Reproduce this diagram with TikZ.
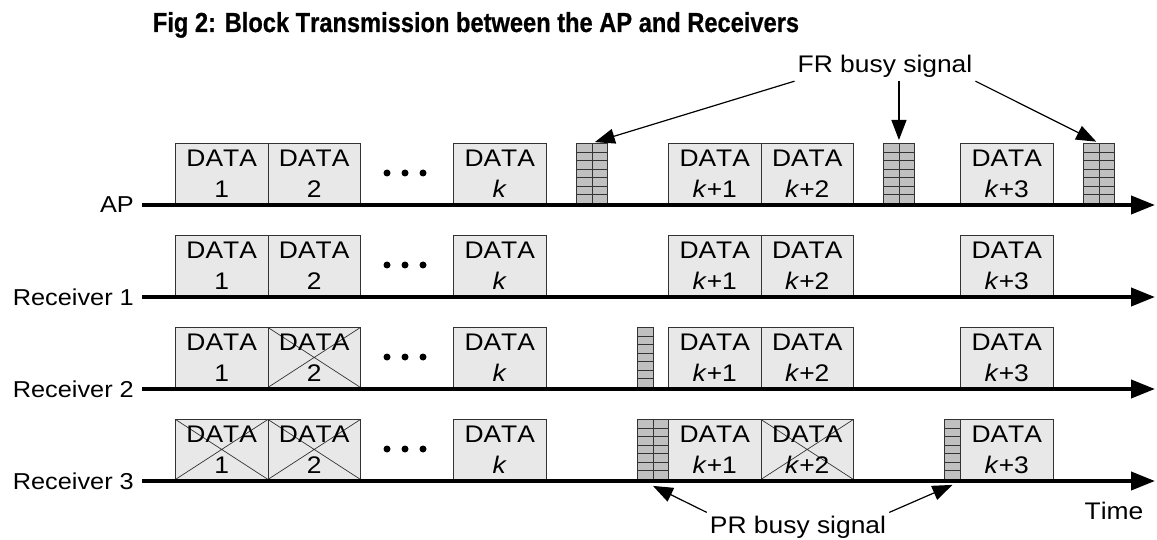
\documentclass[tikz,border=0pt]{standalone}
\usepackage{fontspec}
\setmainfont{Liberation Sans}[FakeStretch=1.1,Kerning=Off]
\newfontfamily\titlefont{Liberation Sans}[FakeStretch=0.86,Kerning=Off,FakeBold=0.6]
\usetikzlibrary{arrows.meta,calc}
\definecolor{boxfill}{HTML}{E8E8E8}
\definecolor{busyfill}{HTML}{C0C0C0}
\definecolor{edge}{HTML}{333333}
\tikzset{
  datab/.style={draw=edge, fill=boxfill, line width=0.9pt, minimum width=92.5pt,
    minimum height=60pt, inner sep=0pt, anchor=north west, align=center,
    font=\fontsize{24}{31}\selectfont},
  crossed/.style={path picture={
    \draw[edge, line width=0.7pt]
      (path picture bounding box.north west) -- (path picture bounding box.south east)
      (path picture bounding box.south west) -- (path picture bounding box.north east);}},
  busybase/.style={draw=edge, fill=busyfill, line width=0.9pt, minimum height=60pt,
    inner sep=0pt, anchor=north west},
  busyw/.style={busybase, minimum width=31pt, path picture={
    \foreach \i in {1,...,6}{
      \draw[edge, line width=0.9pt]
        ($(path picture bounding box.north west)!\i/7!(path picture bounding box.south west)$) --
        ($(path picture bounding box.north east)!\i/7!(path picture bounding box.south east)$);}
    \draw[edge, line width=0.9pt] (path picture bounding box.north) -- (path picture bounding box.south);}},
  busyn/.style={busybase, minimum width=16pt, path picture={
    \foreach \i in {1,...,6}{
      \draw[edge, line width=0.9pt]
        ($(path picture bounding box.north west)!\i/7!(path picture bounding box.south west)$) --
        ($(path picture bounding box.north east)!\i/7!(path picture bounding box.south east)$);}}},
  dotn/.style={circle, fill=black, minimum size=7pt, inner sep=0pt},
  lbl/.style={font=\fontsize{23}{26}\selectfont, inner sep=0pt, anchor=east},
  lblf/.style={font=\fontsize{24}{28}\selectfont, inner sep=3pt, anchor=base},
  axisln/.style={line width=4pt, -{Triangle[length=24pt,width=18pt]}},
  ptr/.style={line width=1.2pt, -{Triangle[length=20pt,width=15pt]}},
}
\begin{document}
\begin{tikzpicture}[x=1pt,y=-1pt]
\useasboundingbox (0,0) rectangle (1157,540);

% title
\node[anchor=base, inner sep=0pt, font=\titlefont\bfseries\fontsize{27.5}{30}\selectfont] (title) at (476,32)
  {Fig 2: Block Transmission between the AP and Receivers};

% ---- AP row ----
\node[datab] (a1) at (175,143) {DATA\\1};
\node[datab] (a2) at (267.5,143) {DATA\\2};
\node[dotn] (ad1) at (387,173) {};
\node[dotn] (ad2) at (405,173) {};
\node[dotn] (ad3) at (423,173) {};
\node[datab] (ak) at (453,143) {DATA\\\textit{k}};
\node[busyw] (ab1) at (576,143) {};
\node[datab] (ak1) at (668,143) {DATA\\\textit{k}+1};
\node[datab] (ak2) at (760.5,143) {DATA\\\textit{k}+2};
\node[busyw] (ab2) at (883,143) {};
\node[datab] (ak3) at (960,143) {DATA\\\textit{k}+3};
\node[busyw] (ab3) at (1083,143) {};

% ---- Receiver 1 ----
\node[datab] (b1) at (175,235) {DATA\\1};
\node[datab] (b2) at (267.5,235) {DATA\\2};
\node[dotn] (bd1) at (387,265) {};
\node[dotn] (bd2) at (405,265) {};
\node[dotn] (bd3) at (423,265) {};
\node[datab] (bk) at (453,235) {DATA\\\textit{k}};
\node[datab] (bk1) at (668,235) {DATA\\\textit{k}+1};
\node[datab] (bk2) at (760.5,235) {DATA\\\textit{k}+2};
\node[datab] (bk3) at (960,235) {DATA\\\textit{k}+3};

% ---- Receiver 2 ----
\node[datab] (c1) at (175,327) {DATA\\1};
\node[datab, crossed] (c2) at (267.5,327) {DATA\\2};
\node[dotn] (cd1) at (387,357) {};
\node[dotn] (cd2) at (405,357) {};
\node[dotn] (cd3) at (423,357) {};
\node[datab] (ck) at (453,327) {DATA\\\textit{k}};
\node[busyn] (cb1) at (637,327) {};
\node[datab] (ck1) at (668,327) {DATA\\\textit{k}+1};
\node[datab] (ck2) at (760.5,327) {DATA\\\textit{k}+2};
\node[datab] (ck3) at (960,327) {DATA\\\textit{k}+3};

% ---- Receiver 3 ----
\node[datab, crossed] (d1) at (175,419) {DATA\\1};
\node[datab, crossed] (d2) at (267.5,419) {DATA\\2};
\node[dotn] (dd1) at (387,449) {};
\node[dotn] (dd2) at (405,449) {};
\node[dotn] (dd3) at (423,449) {};
\node[datab] (dk) at (453,419) {DATA\\\textit{k}};
\node[busyw] (db1) at (637,419) {};
\node[datab] (dk1) at (668,419) {DATA\\\textit{k}+1};
\node[datab, crossed] (dk2) at (760.5,419) {DATA\\\textit{k}+2};
\node[busyn] (db2) at (944,419) {};
\node[datab] (dk3) at (960,419) {DATA\\\textit{k}+3};

% ---- axes ----
\node[lbl] (lAP) at (134,205) {AP};
\node[lbl] (lR1) at (134,297) {Receiver 1};
\node[lbl] (lR2) at (134,389) {Receiver 2};
\node[lbl] (lR3) at (134,481) {Receiver 3};
\coordinate (eAP) at (1155,205);
\coordinate (eR1) at (1155,297);
\coordinate (eR2) at (1155,389);
\coordinate (eR3) at (1155,481);
\draw[axisln] ([xshift=8pt]lAP.east) -- (eAP);
\draw[axisln] ([xshift=8pt]lR1.east) -- (eR1);
\draw[axisln] ([xshift=8pt]lR2.east) -- (eR2);
\draw[axisln] ([xshift=8pt]lR3.east) -- (eR3);

% ---- FR busy signal ----
\node[lblf] (fr) at (885,73) {FR busy signal};
\draw[ptr, shorten >=3pt] (fr.south west) -- (ab1.north);
\draw[ptr, shorten >=3pt] (fr.south -| ab2.north) -- (ab2.north);
\draw[ptr, shorten >=3pt] (fr.south east) -- (ab3.north);

% ---- PR busy signal ----
\node[lblf] (pr) at (798,533) {PR busy signal};
\draw[ptr] (pr.north west) -- ([yshift=-6pt]db1.south);
\draw[ptr] (pr.north east) -- ([yshift=-5pt]db2.south);

% ---- Time ----
\node[lblf] (time) at (1114,519) {Time};
\end{tikzpicture}
\end{document}
